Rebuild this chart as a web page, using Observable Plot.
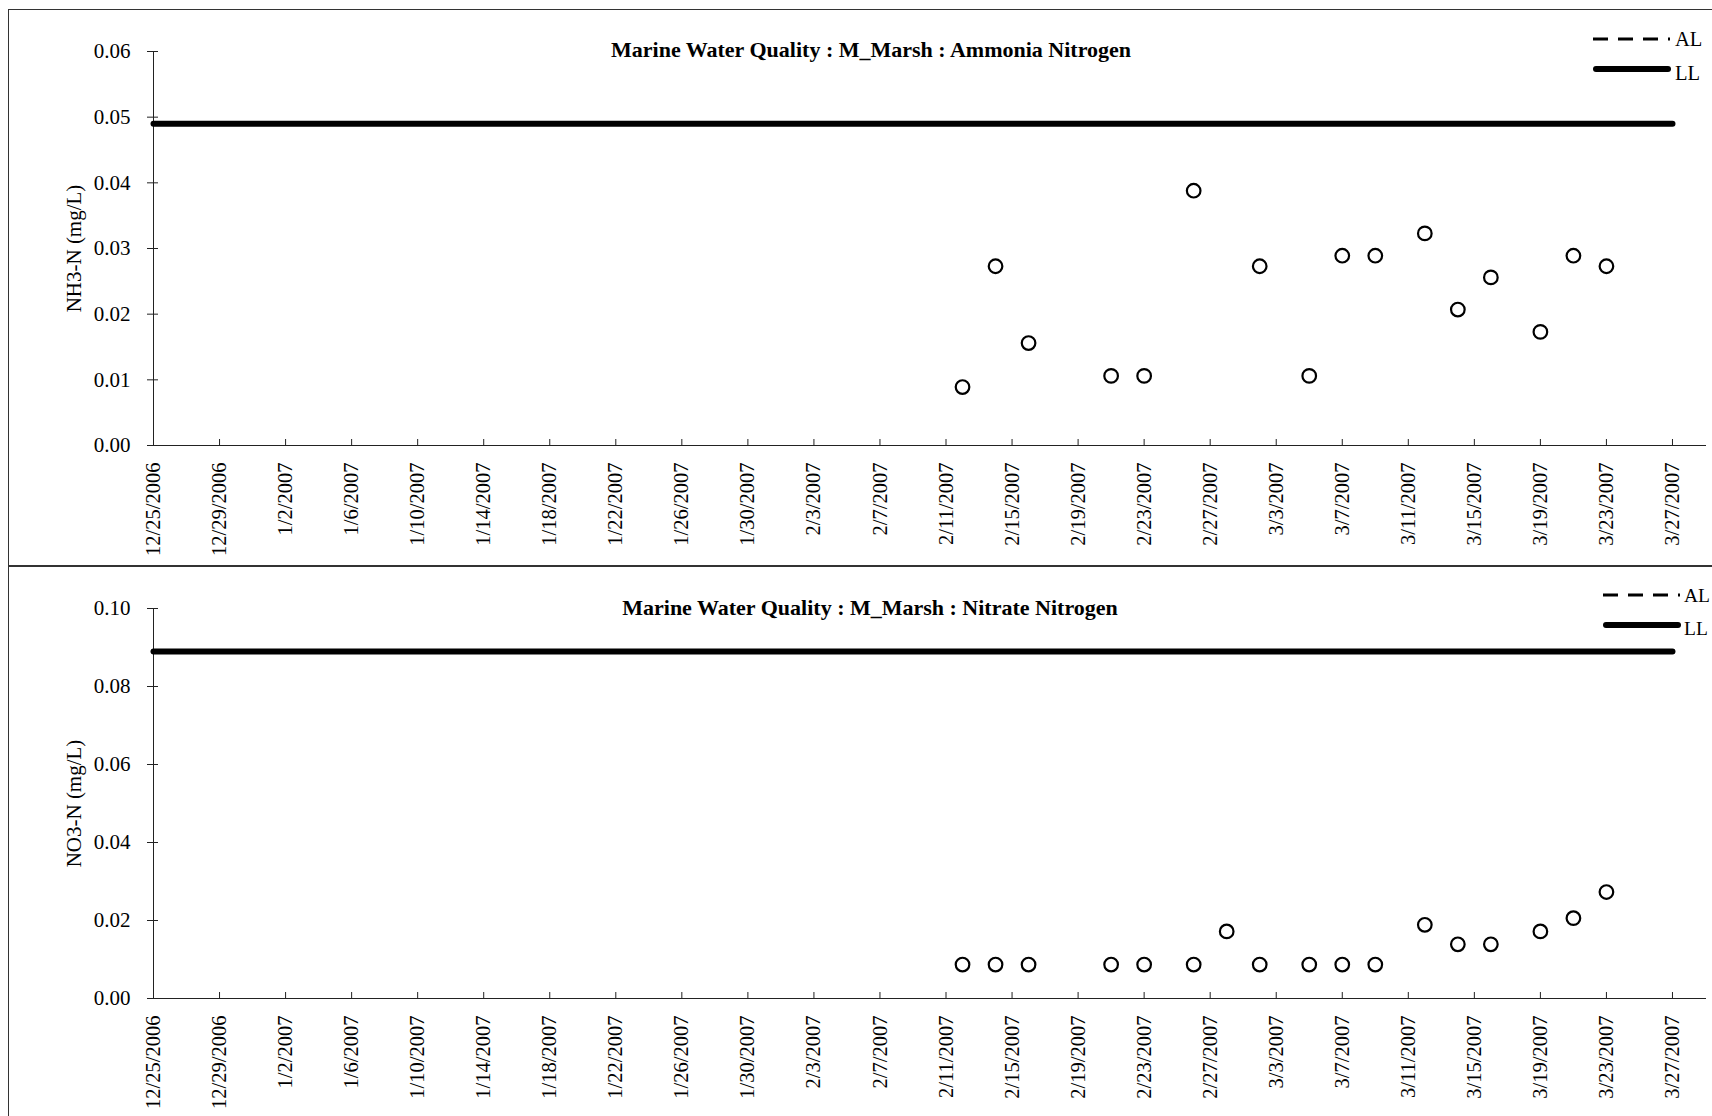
<!DOCTYPE html>
<html>
<head>
<meta charset="utf-8">
<script src="https://cdn.jsdelivr.net/npm/d3@7"></script>
<script src="https://cdn.jsdelivr.net/npm/@observablehq/plot@0.6"></script>
<style>
  body { margin: 0; background: #fff; }
  #root { position: relative; width: 1712px; height: 1116px; overflow: hidden; font-family: "Liberation Serif", "Times New Roman", serif; color: #000; }
  .layer { position: absolute; left: 0; }
  .box { position: absolute; border: 1.5px solid #333; box-sizing: border-box; }
  .title { position: absolute; font-weight: bold; font-size: 22px; transform: translate(-50%, -50%); white-space: nowrap; }
  .legend { position: absolute; left: 0; top: 0; overflow: visible; }
</style>
</head>
<body>
<div id="root"></div>
<script>
// ---- data ----
const xTickLabels = ["12/25/2006","12/29/2006","1/2/2007","1/6/2007","1/10/2007","1/14/2007","1/18/2007","1/22/2007","1/26/2007","1/30/2007","2/3/2007","2/7/2007","2/11/2007","2/15/2007","2/19/2007","2/23/2007","2/27/2007","3/3/2007","3/7/2007","3/11/2007","3/15/2007","3/19/2007","3/23/2007","3/27/2007"];
const xDomain = ["12/25/2006", "3/29/2007"];

const ammoniaDates  = ["2/12/2007","2/14/2007","2/16/2007","2/21/2007","2/23/2007","2/26/2007","3/2/2007","3/5/2007","3/7/2007","3/9/2007","3/12/2007","3/14/2007","3/16/2007","3/19/2007","3/21/2007","3/23/2007"];
const ammoniaValues = [0.0089, 0.0273, 0.0156, 0.0106, 0.0106, 0.0388, 0.0273, 0.0106, 0.0289, 0.0289, 0.0323, 0.0207, 0.0256, 0.0173, 0.0289, 0.0273];
const ammoniaLL = 0.049;
const ammoniaYTicks = [0, 0.01, 0.02, 0.03, 0.04, 0.05, 0.06];

const nitrateDates  = ["2/12/2007","2/14/2007","2/16/2007","2/21/2007","2/23/2007","2/26/2007","2/28/2007","3/2/2007","3/5/2007","3/7/2007","3/9/2007","3/12/2007","3/14/2007","3/16/2007","3/19/2007","3/21/2007","3/23/2007"];
const nitrateValues = [0.0087, 0.0087, 0.0087, 0.0087, 0.0087, 0.0087, 0.0172, 0.0087, 0.0087, 0.0087, 0.0087, 0.0189, 0.0139, 0.0139, 0.0172, 0.0206, 0.0273];
const nitrateLL = 0.089;
const nitrateYTicks = [0, 0.02, 0.04, 0.06, 0.08, 0.10];

const llDates = ["12/25/2006", "3/27/2007"];
const legendLabels = ["AL", "LL"];

// ---- helpers ----
const parse = s => { const [m, d, y] = s.split("/").map(Number); return new Date(Date.UTC(y, m - 1, d)); };
const fmtDate = d => `${d.getUTCMonth() + 1}/${d.getUTCDate()}/${d.getUTCFullYear()}`;
const xTicks = xTickLabels.map(parse);
const root = document.getElementById("root");

function panel(cfg) {
  const data = cfg.dates.map((d, i) => ({date: parse(d), value: cfg.values[i]}));
  const ll = llDates.map(d => ({date: parse(d), value: cfg.ll}));
  const chart = Plot.plot({
    width: 1712,
    height: cfg.height,
    marginLeft: 153,
    marginRight: 7,
    marginTop: cfg.mt,
    marginBottom: cfg.mb,
    x: {type: "utc", domain: xDomain.map(parse), axis: null},
    y: {domain: [0, cfg.yMax], axis: null},
    style: {fontFamily: "Liberation Serif, Times New Roman, serif", fontSize: "20.5px", color: "#000", background: "transparent", overflow: "visible"},
    marks: [
      Plot.frame({anchor: "bottom", stroke: "#222", strokeOpacity: 1}),
      Plot.frame({anchor: "left", stroke: "#222", strokeOpacity: 1}),
      Plot.axisY({ticks: cfg.yTicks, tickSize: 6, tickPadding: 17, tickFormat: d3.format(".2f"), stroke: "#222", strokeOpacity: 1, fontSize: 21, label: null}),
      Plot.axisY({ticks: cfg.yTicks, tickSize: 5, dx: 5, tickFormat: () => "", stroke: "#222", strokeOpacity: 1, label: null}),
      Plot.axisX({ticks: xTicks, tickSize: 6, dy: -6, tickFormat: () => "", stroke: "#222", strokeOpacity: 1, label: null}),
      Plot.axisX({ticks: xTicks, tickSize: 0, tickPadding: 17, tickRotate: -90, textAnchor: "end", lineAnchor: "middle", tickFormat: fmtDate, fontSize: 20.5, label: null}),
      Plot.line(ll, {x: "date", y: "value", stroke: "#000", strokeWidth: 6, strokeLinecap: "round"}),
      Plot.dot(data, {x: "date", y: "value", r: 6.8, stroke: "#000", strokeWidth: 2.2, fill: "none"}),
      Plot.text([cfg.yLabel], {frameAnchor: "left", dx: -79, rotate: -90, textAnchor: "middle", lineAnchor: "middle", fontSize: 21, fill: "#000"})
    ]
  });
  const wrap = document.createElement("div");
  wrap.className = "layer";
  wrap.style.top = cfg.top + "px";
  wrap.appendChild(chart);
  root.appendChild(wrap);

  const t = document.createElement("div");
  t.className = "title";
  t.style.left = cfg.titleX + "px";
  t.style.top = cfg.titleY + "px";
  t.textContent = cfg.title;
  root.appendChild(t);

  // legend (key only, no data)
  const L = cfg.legend;
  const svg = d3.select(root).append("svg").attr("class", "legend").attr("width", 1712).attr("height", 1116);
  svg.append("line").attr("x1", L.x0).attr("x2", L.x1).attr("y1", L.yAL).attr("y2", L.yAL)
    .attr("stroke", "#000").attr("stroke-width", 3).attr("stroke-dasharray", "15,10");
  svg.append("line").attr("x1", L.x0 + 3).attr("x2", L.x1 - 2).attr("y1", L.yLL).attr("y2", L.yLL)
    .attr("stroke", "#000").attr("stroke-width", 6).attr("stroke-linecap", "round");
  svg.append("text").attr("x", L.tx).attr("y", L.yAL).attr("dy", "0.35em").text(legendLabels[0])
    .attr("font-family", "Liberation Serif, serif").attr("font-size", L.fs);
  svg.append("text").attr("x", L.tx).attr("y", L.yLL + L.llTextOff).attr("dy", "0.35em").text(legendLabels[1])
    .attr("font-family", "Liberation Serif, serif").attr("font-size", L.fs);
}

// frames
const b1 = document.createElement("div"); b1.className = "box";
Object.assign(b1.style, {left: "8px", top: "9px", width: "1720px", height: "558px"});
root.appendChild(b1);
const b2 = document.createElement("div"); b2.className = "box";
Object.assign(b2.style, {left: "8px", top: "565px", width: "1720px", height: "600px"});
root.appendChild(b2);

panel({
  top: 0, height: 566, mt: 51, mb: 121, yMax: 0.06, yTicks: ammoniaYTicks,
  dates: ammoniaDates, values: ammoniaValues, ll: ammoniaLL,
  yLabel: "NH3-N (mg/L)", title: "Marine Water Quality : M_Marsh : Ammonia Nitrogen",
  titleX: 871, titleY: 50,
  legend: {x0: 1593, x1: 1670, yAL: 39, yLL: 69, tx: 1675, llTextOff: 4, fs: 20.5}
});
panel({
  top: 566, height: 550, mt: 42, mb: 118, yMax: 0.10, yTicks: nitrateYTicks,
  dates: nitrateDates, values: nitrateValues, ll: nitrateLL,
  yLabel: "NO3-N (mg/L)", title: "Marine Water Quality : M_Marsh : Nitrate Nitrogen",
  titleX: 870, titleY: 608,
  legend: {x0: 1603, x1: 1680, yAL: 595, yLL: 625, tx: 1684, llTextOff: 3, fs: 19.5}
});
</script>
</body>
</html>
